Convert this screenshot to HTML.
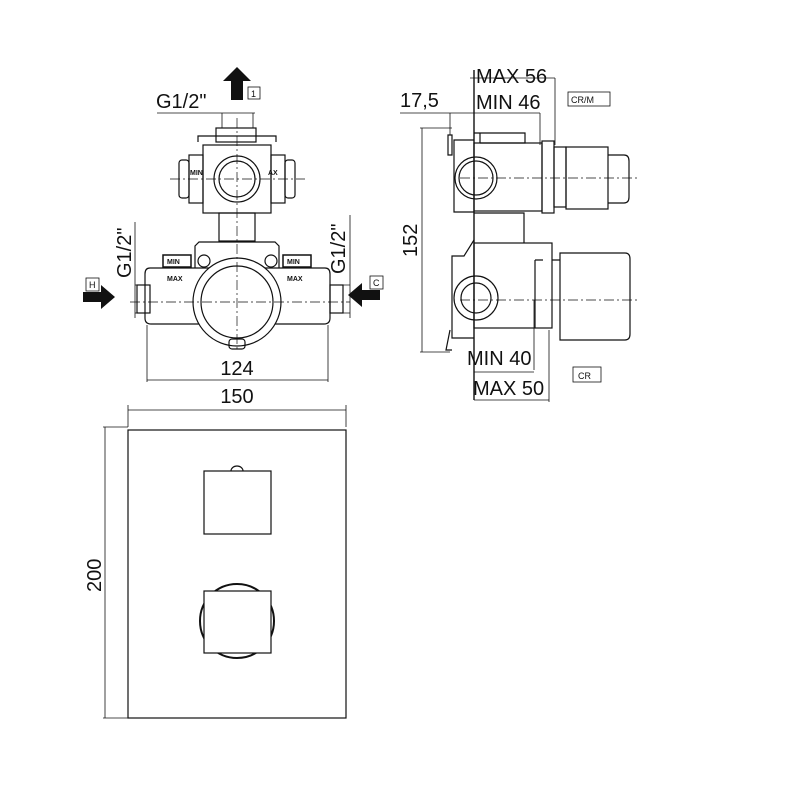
<!DOCTYPE html>
<html><head><style>body{margin:0;background:#fff}svg{display:block}text{font-family:"Liberation Sans",sans-serif;fill:#111}</style></head><body>
<svg width="800" height="800" viewBox="0 0 800 800" xmlns="http://www.w3.org/2000/svg">
<g fill="none" stroke="#111" stroke-width="1.2">
<!-- FRONT TOP VIEW -->
<line x1="157" y1="113" x2="255" y2="113" stroke-width="0.8"/>
<line x1="222" y1="113" x2="222" y2="128" stroke-width="0.8"/><line x1="253" y1="113" x2="253" y2="128" stroke-width="0.8"/>
<rect x="216" y="128" width="40" height="14"/>
<path d="M198 142 v-6 h78 v6"/>
<rect x="203" y="145" width="68" height="68"/>
<circle cx="237" cy="179" r="23"/><circle cx="237" cy="179" r="18"/>
<rect x="189" y="155" width="14" height="48"/><rect x="271" y="155" width="14" height="48"/>
<rect x="179" y="160" width="10" height="38" rx="3"/><rect x="285" y="160" width="10" height="38" rx="3"/>
<rect x="219" y="213" width="36" height="28"/>
<path d="M195 268 v-22 l4 -4 h76 l4 4 v22"/>
<path d="M150 268 h175 q5 0 5 6 v44 q0 6 -6 6 h-173 q-6 0 -6 -6 v-44 q0 -6 5 -6z"/>
<rect x="137" y="285" width="13" height="28"/><rect x="330" y="285" width="13" height="28"/>
<circle cx="237" cy="302" r="44" fill="#fff"/><circle cx="237" cy="302" r="36"/>
<circle cx="204" cy="261" r="6"/><circle cx="271" cy="261" r="6"/>
<rect x="229" y="339" width="16" height="10" rx="3"/>
<rect x="163" y="255" width="28" height="12" stroke-width="1.5"/><rect x="283" y="255" width="28" height="12" stroke-width="1.5"/>
<g stroke-dasharray="10 3 2 3" stroke-width="0.7">
<line x1="170" y1="179" x2="305" y2="179"/><line x1="237" y1="118" x2="237" y2="350"/>
<line x1="130" y1="302" x2="350" y2="302"/></g>
<line x1="135" y1="222" x2="135" y2="318" stroke-width="0.8"/><line x1="135" y1="285" x2="150" y2="285" stroke-width="0.8"/><line x1="135" y1="313" x2="150" y2="313" stroke-width="0.8"/>
<line x1="350" y1="215" x2="350" y2="318" stroke-width="0.8"/><line x1="330" y1="285" x2="350" y2="285" stroke-width="0.8"/><line x1="330" y1="313" x2="350" y2="313" stroke-width="0.8"/>
<line x1="147" y1="325" x2="147" y2="382" stroke-width="0.8"/><line x1="328" y1="325" x2="328" y2="382" stroke-width="0.8"/>
<line x1="147" y1="380" x2="328" y2="380" stroke-width="0.8"/>
<line x1="128" y1="405" x2="128" y2="427" stroke-width="0.8"/><line x1="346" y1="405" x2="346" y2="427" stroke-width="0.8"/>
<line x1="128" y1="410" x2="346" y2="410" stroke-width="0.8"/>
<rect x="248" y="87" width="12" height="12" stroke-width="0.8"/>
<rect x="86" y="278" width="13" height="13" stroke-width="0.8"/>
<rect x="370" y="276" width="13" height="13" stroke-width="0.8"/>
<!-- PLATE -->
<rect x="128" y="430" width="218" height="288"/>
<line x1="103" y1="427" x2="128" y2="427" stroke-width="0.8"/><line x1="103" y1="718" x2="128" y2="718" stroke-width="0.8"/>
<line x1="105" y1="427" x2="105" y2="718" stroke-width="0.8"/>
<rect x="204" y="471" width="67" height="63"/><path d="M231 471 a6 5 0 0 1 12 0"/>
<circle cx="237" cy="621" r="37" stroke-width="2"/>
<rect x="204" y="591" width="67" height="62" fill="#fff"/>
<!-- SIDE VIEW -->
<line x1="470" y1="78" x2="555" y2="78" stroke-width="0.8"/><line x1="555" y1="78" x2="555" y2="145" stroke-width="0.8"/>
<line x1="400" y1="113" x2="540" y2="113" stroke-width="0.8"/><line x1="540" y1="113" x2="540" y2="145" stroke-width="0.8"/>
<line x1="450" y1="113" x2="450" y2="135" stroke-width="0.8"/>
<line x1="420" y1="128" x2="452" y2="128" stroke-width="0.8"/><line x1="420" y1="352" x2="450" y2="352" stroke-width="0.8"/>
<line x1="422" y1="128" x2="422" y2="352" stroke-width="0.8"/>
<line x1="474" y1="70" x2="474" y2="400" stroke-width="1.4"/>
<rect x="474" y="143" width="68" height="68"/><path d="M474 133 h20 M480 133 v10 M480 143 h45 v-10 h-45"/>
<rect x="542" y="141" width="12" height="72"/><rect x="554" y="147" width="12" height="60"/>
<rect x="566" y="147" width="42" height="62"/><path d="M608 155 h16 q5 0 5 6 v36 q0 6 -5 6 h-16"/>
<path d="M474 140 h-20 v72 h20 M452 135 v20 h-4 v-20z"/>
<circle cx="476" cy="178" r="21"/><circle cx="476" cy="178" r="17"/>
<path d="M474 213 h50 v30"/>
<rect x="474" y="243" width="78" height="85"/><path d="M535 260 v68 M535 260 h8 M552 260 h8"/>
<path d="M560 253 h65 q5 0 5 6 v75 q0 6 -5 6 h-65z"/>
<path d="M474 240 l-10 16 h-12 v82 h22 M450 330 l-4 20 h6"/>
<circle cx="476" cy="298" r="22"/><circle cx="476" cy="298" r="15"/>
<g stroke-dasharray="10 3 2 3" stroke-width="0.7"><line x1="460" y1="178" x2="637" y2="178"/><line x1="460" y1="300" x2="638" y2="300"/></g>
<line x1="534" y1="300" x2="534" y2="370" stroke-width="0.8"/><line x1="474" y1="372" x2="534" y2="372" stroke-width="0.8"/>
<line x1="549" y1="330" x2="549" y2="402" stroke-width="0.8"/><line x1="474" y1="400" x2="549" y2="400" stroke-width="0.8"/>
<rect x="568" y="92" width="42" height="14" stroke-width="0.8"/>
<rect x="573" y="367" width="28" height="15" stroke-width="0.8"/>
</g>
<!-- arrows -->
<path d="M237 67 l-14 14 h8 v19 h12 v-19 h8z" fill="#111"/>
<path d="M115 297 l-14 -12 v7 h-18 v10 h18 v7z" fill="#111"/>
<path d="M348 295 l14 -12 v7 h18 v10 h-18 v7z" fill="#111"/>
<g font-size="20">
<text x="156" y="108">G1/2"</text>
<text x="237" y="375" text-anchor="middle">124</text>
<text x="237" y="403" text-anchor="middle">150</text>
<text x="476" y="83">MAX 56</text>
<text x="400" y="107">17,5</text>
<text x="476" y="109">MIN 46</text>
<text x="467" y="365">MIN 40</text>
<text x="473" y="395">MAX 50</text>
<text transform="translate(131,278) rotate(-90)">G1/2"</text>
<text transform="translate(345,274) rotate(-90)">G1/2"</text>
<text transform="translate(101,592) rotate(-90)">200</text>
<text transform="translate(417,257) rotate(-90)">152</text>
</g>
<g font-size="9"><text x="251" y="97">1</text><text x="89" y="288">H</text><text x="373" y="286">C</text>
<text x="571" y="103">CR/M</text><text x="578" y="379">CR</text>
<g font-size="7" font-weight="bold"><text x="167" y="264">MIN</text><text x="167" y="281">MAX</text><text x="287" y="264">MIN</text><text x="287" y="281">MAX</text>
<text x="190" y="175">MIN</text><text x="268" y="175">AX</text></g></g>
</svg>
</body></html>
